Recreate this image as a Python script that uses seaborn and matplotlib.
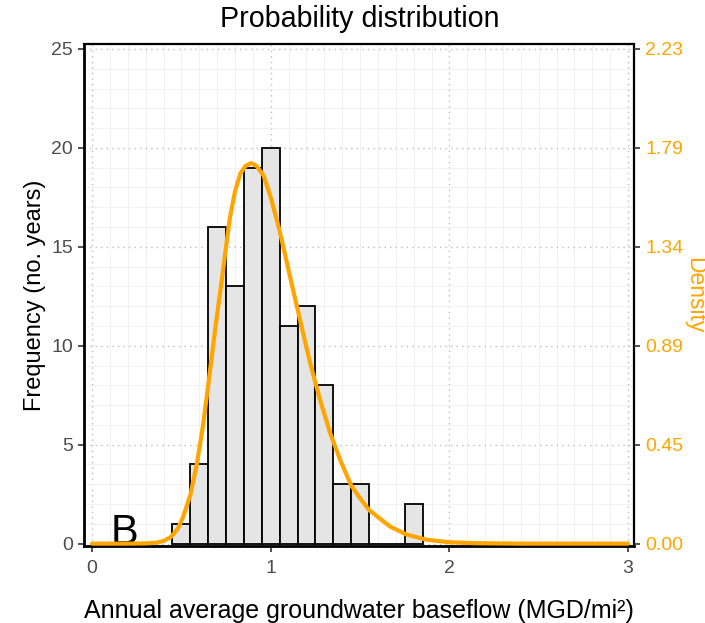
import numpy as np
import pandas as pd
import seaborn as sns
import matplotlib.pyplot as plt
from matplotlib.ticker import MultipleLocator, FixedLocator

# ---- data ----
bin_centers = [0.5, 0.6, 0.7, 0.8, 0.9, 1.0, 1.1, 1.2, 1.3, 1.4, 1.5, 1.6, 1.7, 1.8]
counts = [1, 4, 16, 13, 19, 20, 11, 12, 8, 3, 3, 0, 0, 2]
bin_width = 0.1

curve_x = [0.00, 0.20, 0.30, 0.36, 0.40, 0.44, 0.48, 0.51, 0.55, 0.586, 0.62, 0.65,
           0.69, 0.726, 0.75, 0.772, 0.80, 0.83, 0.86, 0.89, 0.92, 0.96, 1.00, 1.05,
           1.108, 1.164, 1.22, 1.276, 1.332, 1.39, 1.45, 1.50, 1.55, 1.60, 1.67, 1.76,
           1.87, 2.00, 2.15, 2.40, 3.00]
curve_density = [0.000, 0.000, 0.001, 0.004, 0.012, 0.029, 0.067, 0.121, 0.219, 0.357,
                 0.527, 0.714, 0.973, 1.188, 1.339, 1.473, 1.589, 1.670, 1.705, 1.717,
                 1.705, 1.661, 1.563, 1.411, 1.205, 1.009, 0.817, 0.649, 0.500, 0.375,
                 0.263, 0.205, 0.152, 0.120, 0.076, 0.041, 0.018, 0.006, 0.002, 0.000,
                 0.000]

x_ticks = [0, 1, 2, 3]
y_ticks = [0, 5, 10, 15, 20, 25]

title = "Probability distribution"
xlabel = "Annual average groundwater baseflow (MGD/mi\u00b2)"
ylabel = "Frequency (no. years)"
y2label = "Density"
panel_tag = "B"

ORANGE = "#FFA500"
TICKGREY = "#4D4D4D"

sns.set_theme(style="white")
plt.rcParams['font.family'] = ['Liberation Sans', 'DejaVu Sans']

W, H = 705, 623
fig = plt.figure(figsize=(W / 100, H / 100), dpi=100)
ax = fig.add_axes([84 / W, 1 - 546 / H, 550 / W, (546 - 44) / H])

edges = [c - bin_width / 2 for c in bin_centers] + [bin_centers[-1] + bin_width / 2]
df = pd.DataFrame({"x": bin_centers, "n": counts})
sns.histplot(data=df, x="x", weights="n", bins=edges, color="#E5E5E5",
             edgecolor="black", linewidth=1.3, alpha=1, ax=ax, zorder=3)

ylim = (-0.12, 25.25)
ax.set_xlim(-0.045, 3.033)
ax.set_ylim(*ylim)

ax.xaxis.set_major_locator(FixedLocator(x_ticks))
ax.yaxis.set_major_locator(FixedLocator(y_ticks))
ax.xaxis.set_minor_locator(MultipleLocator(0.1))
ax.yaxis.set_minor_locator(MultipleLocator(1))
ax.set_axisbelow(True)
ax.grid(which="minor", color="#EFEFEF", linewidth=0.6, linestyle="-")
ax.grid(which="major", color="#BDBDBD", linewidth=1.0, linestyle=(0, (1, 3)))

ax.tick_params(axis="both", which="major", direction="out", length=4, width=1.2,
               color="#333333", labelcolor=TICKGREY, labelsize=14, pad=4,
               left=True, bottom=True)
ax.tick_params(axis="x", which="major", pad=6)
ax.tick_params(axis="both", which="minor", length=0)
for s in ax.spines.values():
    s.set_color("black")
    s.set_linewidth(1.6)
ax.spines["left"].set_linewidth(2.0)
ax.spines["bottom"].set_linewidth(2.0)

ax.set_xlabel(xlabel, fontsize=18, color="black", labelpad=16)
ax.set_ylabel(ylabel, fontsize=17, color="black", labelpad=4)

ax.text(0.18, 0, panel_tag, fontsize=30, ha="center", va="baseline",
        color="black", zorder=6)

# secondary density axis
scale = sum(counts) * bin_width
ax2 = ax.twinx()
sns.lineplot(x=curve_x, y=curve_density, ax=ax2, color=ORANGE, linewidth=3.0,
             zorder=5)
ax2.set_ylim(ylim[0] / scale, ylim[1] / scale)
ax2.yaxis.set_major_locator(FixedLocator([t / scale for t in y_ticks]))
ax2.set_yticklabels([f"{t / scale:.2f}" for t in y_ticks])
ax2.tick_params(axis="y", direction="out", length=4, width=1.2, color="#333333",
                labelcolor=ORANGE, labelsize=14, pad=4, right=True)
ax2.grid(False)
for s in ax2.spines.values():
    s.set_visible(False)
ax2.set_ylabel(y2label, fontsize=16.5, color=ORANGE, rotation=270,
               ha="center", va="center")
ax2.yaxis.set_label_coords(1.0 + 61 / 550, 0.5)

fig.text(360 / W, 1 - 19 / H, title, fontsize=20.6, ha="center", va="center",
         color="black")

fig.savefig("out.png", dpi=100)
